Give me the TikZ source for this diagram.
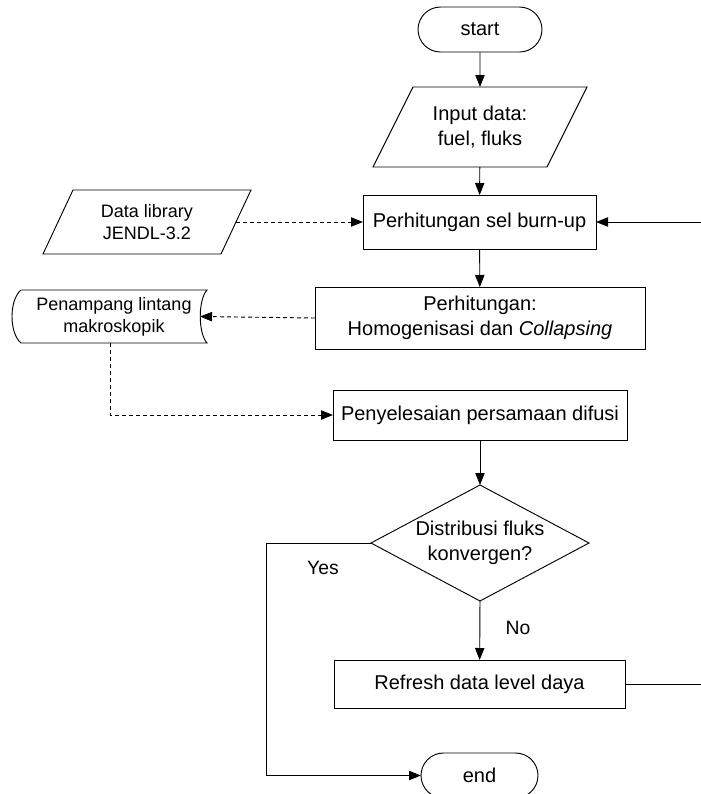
\documentclass[tikz,border=0pt]{standalone}
\usepackage{fontspec}
\setmainfont{Liberation Sans}
\usetikzlibrary{arrows.meta,shapes.misc,calc}
\newcommand\paraoutline[2]{\draw ($(#1.north west)+(#2,0)$) -- ($(#1.north east)+(#2,0)$) -- ($(#1.south east)+(-#2,0)$) -- ($(#1.south west)+(-#2,0)$) -- cycle;}
\begin{document}
\begin{tikzpicture}[x=0.75pt,y=-0.75pt,
  line width=0.7pt,
  every node/.style={inner sep=0pt, outer sep=0pt, align=center},
  mainfont/.style={font=\fontsize{15}{19}\selectfont},
  smallfont/.style={font=\fontsize{13.5}{16.5}\selectfont},
  procbox/.style={draw, rectangle, mainfont},
  termbox/.style={draw, rounded rectangle, mainfont},
  iobox/.style={rectangle, mainfont},
  flow/.style={-{Triangle[length=9pt,width=7pt]}},
  dataflow/.style={flow, dash pattern=on 3pt off 2.25pt},
  lbl/.style={font=\fontsize{14.5}{17}\selectfont},
]
\useasboundingbox (0,0) rectangle (701,794);

\node[termbox, minimum width=93pt, minimum height=33.75pt] (start) at (480,29.5) {start};
\node[iobox, minimum width=130.5pt, minimum height=60pt] (input) at (480,127) {Input data:\\fuel, fluks};
\paraoutline{input}{20}
\node[procbox, minimum width=174.75pt, minimum height=40.5pt] (burn) at (479.5,222) {Perhitungan sel burn-up};
\node[iobox, smallfont, minimum width=133.5pt, minimum height=48pt] (data) at (147,222) {Data library\\JENDL-3.2};
\paraoutline{data}{15}
\node[procbox, minimum width=247.5pt, minimum height=46.5pt] (homog) at (480,318) {Perhitungan:\\Homogenisasi dan \textit{Collapsing}};
\node[rectangle, smallfont, minimum width=139.5pt, minimum height=39.75pt] (pen) at (114,316.5) {Penampang lintang\\makroskopik};
\draw (pen.north west) -- (pen.north east)
  .. controls ($(pen.north east)+(-9,10)$) and ($(pen.south east)+(-9,-10)$) .. (pen.south east)
  -- (pen.south west)
  .. controls ($(pen.south west)+(-12,-10)$) and ($(pen.north west)+(-12,10)$) .. (pen.north west);
\node[procbox, minimum width=220.5pt, minimum height=37.5pt] (peny) at (480,415) {Penyelesaian persamaan difusi};
\node[rectangle, mainfont, minimum width=163.5pt, minimum height=87pt] (dec) at (480,543) {Distribusi fluks\\konvergen?};
\draw (dec.north) -- (dec.east) -- (dec.south) -- (dec.west) -- cycle;
\node[procbox, minimum width=218.25pt, minimum height=36pt] (refresh) at (479.5,684) {Refresh data level daya};
\node[termbox, minimum width=87.75pt, minimum height=33.75pt] (endnode) at (479.5,775.5) {end};

\node[lbl] (yes) at (323,568) {Yes};
\node[lbl] (no) at (518,628) {No};

\coordinate (rA) at (701,222);
\coordinate (rB) at (701,684);
\coordinate (c1) at (266,543);
\coordinate (c2) at (266,775.5);

\draw[flow] (start) -- (input);
\draw[flow] (input) -- (burn);
\draw[dataflow] (data.east) -- (burn.west);
\draw[flow] (rA) -- (burn.east);
\draw[flow] (burn) -- (homog);
\draw[dataflow] (homog.west) -- ($(pen.east)+(-7,0)$);
\draw[dataflow] ($(pen.south)+(-4,0)$) |- (peny.west);
\draw[flow] (peny) -- (dec.north);
\draw[flow] (dec.south) -- (refresh);
\draw[flow] (dec.west) -- (c1) -- (c2) -- (endnode.west);
\draw (refresh.east) -- (rB);
\end{tikzpicture}
\end{document}
